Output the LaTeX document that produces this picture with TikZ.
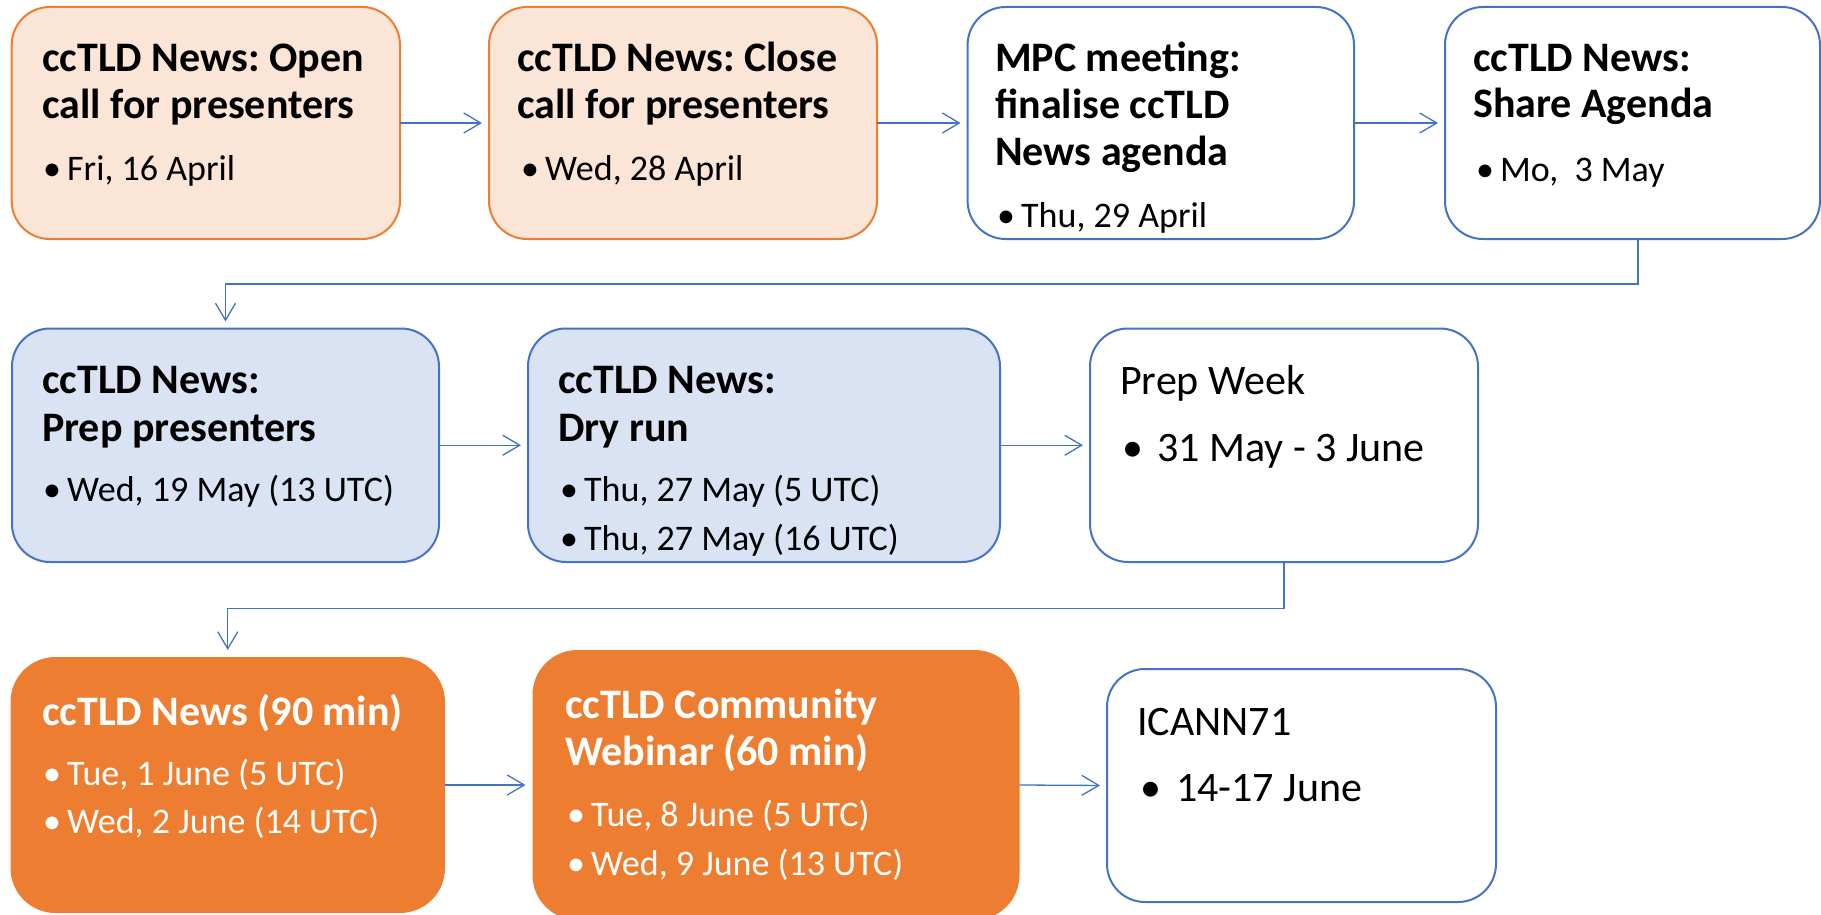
\documentclass[tikz,border=0pt]{standalone}
\usepackage{fontspec}
\setmainfont{Carlito}
\frenchspacing
\usetikzlibrary{arrows.meta}
\definecolor{orgB}{HTML}{ED7D31}
\definecolor{orgL}{HTML}{FBE5D6}
\definecolor{bluB}{HTML}{4472C4}
\definecolor{bluL}{HTML}{DAE3F3}
\newcommand{\bl}[2][24pt]{\makebox[#1][l]{•}#2}
\tikzset{
  box/.style={rectangle, rounded corners=38pt, line width=2pt, inner sep=0pt, outer sep=0pt},
  boxorgl/.style={box, draw=orgB, fill=orgL},
  boxblul/.style={box, draw=bluB, fill=bluL},
  boxwht/.style={box, draw=bluB, fill=white},
  boxorg/.style={box, fill=orgB, rounded corners=45pt},
  ttl/.style={anchor=base west, inner sep=0pt, font=\fontsize{42}{46}\selectfont\bfseries},
  big/.style={anchor=base west, inner sep=0pt, font=\fontsize{42}{46}\selectfont},
  itm/.style={anchor=base west, inner sep=0pt, font=\fontsize{36}{40}\selectfont},
  conn/.style={draw=bluB, line width=1.3pt, shorten >=7pt, -{Straight Barb[length=17pt,width=20pt]}}
}
\begin{document}
\begin{tikzpicture}[x=1pt,y=-1pt]
\useasboundingbox (0,0) rectangle (1821,915);
% boxes
\node[boxorgl, minimum width=388.3pt, minimum height=232pt] (b1) at (205.85,123) {};
\node[boxorgl, minimum width=388pt, minimum height=232pt] (b2) at (683,123) {};
\node[boxwht, minimum width=386.4pt, minimum height=232pt] (b3) at (1160.8,123) {};
\node[boxwht, minimum width=375pt, minimum height=232pt] (b4) at (1632.5,123) {};
\node[boxblul, minimum width=427pt, minimum height=233.5pt] (b5) at (225.5,445.25) {};
\node[boxblul, minimum width=472pt, minimum height=233.5pt] (b6) at (764,445.25) {};
\node[boxwht, minimum width=388pt, minimum height=233.5pt] (b7) at (1284,445.25) {};
\node[boxorg, minimum width=434.5pt, minimum height=256pt] (b8) at (227.75,785) {};
\node[boxorg, minimum width=487pt, minimum height=270pt] (b9) at (776,785) {};
\node[boxwht, minimum width=389pt, minimum height=233pt] (b10) at (1301.5,785.5) {};
% texts box1
\node[ttl] (t1a) at (42,72) {ccTLD News: Open};
\node[ttl] (t1b) at (42,119) {call for presenters};
\node[itm] (t1c) at (43,181) {\bl{Fri, 16 April}};
% box2
\node[ttl] (t2a) at (517,72) {ccTLD News: Close};
\node[ttl] (t2b) at (517,119) {call for presenters};
\node[itm] (t2c) at (521,181) {\bl{Wed, 28 April}};
% box3
\node[ttl] (t3a) at (995,72) {MPC meeting:};
\node[ttl] (t3b) at (995,118.5) {finalise ccTLD};
\node[ttl] (t3c) at (995,165) {News agenda};
\node[itm] (t3d) at (997,227) {\bl{Thu, 29 April}};
% box4
\node[ttl] (t4a) at (1473,72) {ccTLD News:};
\node[ttl] (t4b) at (1473,118) {Share Agenda};
\node[itm] (t4c) at (1476,182) {\bl{Mo,\ \ 3 May}};
% box5
\node[ttl] (t5a) at (42,393) {ccTLD News:};
\node[ttl] (t5b) at (42,441.7) {Prep presenters};
\node[itm] (t5c) at (43,501.7) {\bl{Wed, 19 May (13 UTC)}};
% box6
\node[ttl] (t6a) at (558,393) {ccTLD News:};
\node[ttl] (t6b) at (558,441.7) {Dry run};
\node[itm] (t6c) at (560,501.7) {\bl{Thu, 27 May (5 UTC)}};
\node[itm] (t6d) at (560,550) {\bl{Thu, 27 May (16 UTC)}};
% box7
\node[big] (t7a) at (1120,394) {Prep Week};
\node[big] (t7b) at (1122,461) {\bl[35pt]{31 May - 3 June}};
% box8
\node[ttl, text=white] (t8a) at (42,725) {ccTLD News (90 min)};
\node[itm, text=white] (t8b) at (43,785.7) {\bl{Tue, 1 June (5 UTC)}};
\node[itm, text=white] (t8c) at (43,833) {\bl{Wed, 2 June (14 UTC)}};
% box9
\node[ttl, text=white] (t9a) at (565,718) {ccTLD Community};
\node[ttl, text=white] (t9b) at (565,765.7) {Webinar (60 min)};
\node[itm, text=white] (t9c) at (567,826.7) {\bl{Tue, 8 June (5 UTC)}};
\node[itm, text=white] (t9d) at (567,875) {\bl{Wed, 9 June (13 UTC)}};
% box10
\node[big] (t10a) at (1137,735) {ICANN71};
\node[big] (t10b) at (1140,801.7) {\bl[36pt]{14-17 June}};
% connectors
\draw[conn] (b1.east) -- (b2.west);
\draw[conn] (b2.east) -- (b3.west);
\draw[conn] (b3.east) -- (b4.west);
\draw[conn] ([xshift=5.5pt]b4.south) -- ++(0,45) -| (b5.north);
\draw[conn] (b5.east) -- (b6.west);
\draw[conn] (b6.east) -- (b7.west);
\draw[conn] (b7.south) -- ++(0,46.6) -| (b8.north);
\draw[conn] (b8.east) -- (b9.west);
\draw[conn] (b9.east) -- (b10.west);
\end{tikzpicture}
\end{document}
